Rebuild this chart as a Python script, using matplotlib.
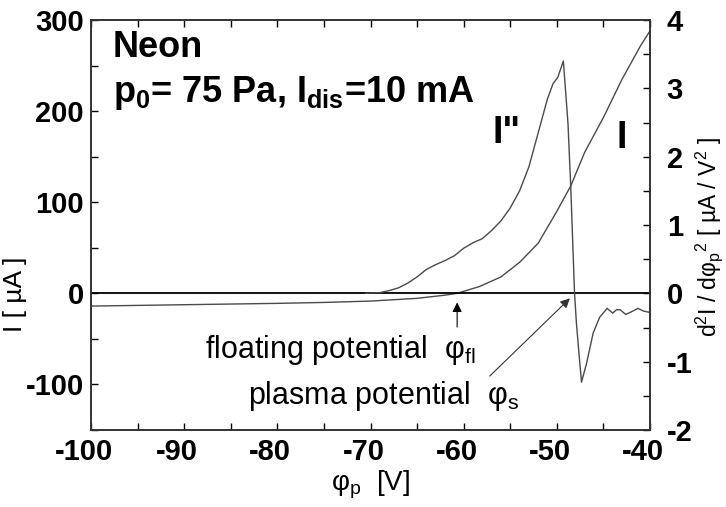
import matplotlib
matplotlib.use("Agg")
import matplotlib.pyplot as plt
import matplotlib.transforms as mtransforms
from matplotlib.ticker import MultipleLocator

plt.rcParams['font.family'] = ['Liberation Sans', 'DejaVu Sans']
plt.rcParams['mathtext.fontset'] = 'custom'
plt.rcParams['mathtext.rm'] = 'Liberation Sans'
plt.rcParams['mathtext.bf'] = 'Liberation Sans:bold'
plt.rcParams['mathtext.it'] = 'Liberation Sans'
plt.rcParams['axes.unicode_minus'] = False

# Probe current I (left axis, µA)
v_I = [-100, -90, -80, -75, -70, -65, -62, -60.7, -58.3, -56, -54, -52, -50,
       -48.5, -47, -45, -43, -41, -40]
I_vals = [-14, -12.5, -11, -10, -8.5, -5.5, -2, 0, 7.5, 18, 34, 55, 90,
          118, 155, 193, 235, 272, 288]

# Second derivative I'' (right axis, µA/V^2)
v_d2 = [-70.5, -69, -68, -67, -66, -65, -64, -63, -62, -61, -60, -59, -58,
        -57, -56, -55, -54, -53, -52, -51, -50.4, -49.9, -49.3, -48.8, -48.5,
        -48.1, -47.9, -47.6, -47.35, -46.8, -46.1, -45.4, -44.6, -44.0, -43.6,
        -43.2, -42.6, -42.0, -41.3, -40.7, -40]
d2_vals = [0, 0.01, 0.04, 0.08, 0.15, 0.24, 0.35, 0.42, 0.48, 0.55, 0.66, 0.74,
           0.80, 0.92, 1.06, 1.25, 1.5, 1.85, 2.35, 2.85, 3.07, 3.16, 3.40, 2.48,
           1.54, 0, -0.43, -0.92, -1.30, -1.02, -0.58, -0.35, -0.22, -0.29, -0.24,
           -0.24, -0.31, -0.27, -0.22, -0.26, -0.28]

x_ticks = [-100, -90, -80, -70, -60, -50, -40]
y_ticks_left = [-100, 0, 100, 200, 300]
y_ticks_right = [-2, -1, 0, 1, 2, 3, 4]

fig = plt.figure(figsize=(7.26, 5.07), dpi=100)
ax = fig.add_axes([91/726, 1-430/507, 559/726, 410/507])
ax2 = ax.twinx()

curve_col = '#4a4a4a'
ax.axhline(0, color='black', lw=1.3, zorder=3)
ax.plot(v_I, I_vals, color=curve_col, lw=1.0)
ax2.plot(v_d2, d2_vals, color=curve_col, lw=1.0)

ax.set_xlim(-100, -40)
ax.set_ylim(-150, 300)
ax2.set_ylim(-2, 4)

ax.set_xticks(x_ticks)
ax.set_yticks(y_ticks_left)
ax2.set_yticks(y_ticks_right)
ax.xaxis.set_minor_locator(MultipleLocator(5))
ax.yaxis.set_minor_locator(MultipleLocator(50))
ax2.yaxis.set_minor_locator(MultipleLocator(0.5))

ax.tick_params(axis='x', which='both', direction='in', top=True, bottom=True,
               length=5, width=1, pad=6, labelsize=21)
ax.tick_params(axis='y', which='both', direction='in', left=True, right=False,
               length=5, width=1, pad=5, labelsize=21)
ax2.tick_params(axis='y', which='both', direction='in', right=True, left=False,
                length=5, width=1, pad=12, labelsize=21)
for lab in ax.get_xticklabels() + ax.get_yticklabels() + ax2.get_yticklabels():
    lab.set_fontweight('bold')
off = mtransforms.ScaledTranslation(-7/100, 0, fig.dpi_scale_trans)
for lab in ax.get_xticklabels():
    lab.set_transform(lab.get_transform() + off)

for sp in list(ax.spines.values()) + list(ax2.spines.values()):
    sp.set_linewidth(1.2)
    sp.set_color('#333333')

ax.set_xlabel(r'$\mathrm{φ_p}$  [V]', fontsize=20)
ax.xaxis.set_label_coords(0.5, -0.095)
ax.set_ylabel('I [ µA ]', fontsize=19)
ax.yaxis.set_label_coords(-0.115, 0.33)
ax2.set_ylabel(r'd$^2$I / d$\mathrm{φ_p}^2$ [ µA / V$^2$ ]', fontsize=16.5)
ax2.yaxis.set_label_coords(1.078, 0.47)

ax.text(0.039, 0.91, 'Neon', transform=ax.transAxes, fontsize=26,
        fontweight='bold', ha='left', va='baseline')
ax.text(0.039, 0.80, r'$\mathbf{p_{0}}$= 75 Pa, $\mathbf{I_{dis}}$=10 mA',
        transform=ax.transAxes, fontsize=26, fontweight='bold',
        ha='left', va='baseline')
ax.text(-56.9, 165, 'I"', fontsize=27, fontweight='bold', ha='left', va='baseline')
ax.text(-43.6, 159, 'I', fontsize=27, fontweight='bold', ha='left', va='baseline')

ax.text(-87.8, -71, r'floating potential  $\mathrm{φ_{fl}}$', fontsize=22,
        ha='left', va='baseline')
ax.text(-83.2, -121, r'plasma potential  $\mathrm{φ_{s}}$', fontsize=22,
        ha='left', va='baseline')

arrow_style = dict(arrowstyle='-|>', color='black', lw=0.8,
                   mutation_scale=14, shrinkA=0, shrinkB=0)
ax.annotate('', xy=(-60.7, -10), xytext=(-60.7, -37), arrowprops=arrow_style)
ax.annotate('', xy=(-48.6, -5.5), xytext=(-57.2, -90.8),
            arrowprops=dict(arrow_style, color='#333333'))

fig.savefig('out.png', dpi=100)
